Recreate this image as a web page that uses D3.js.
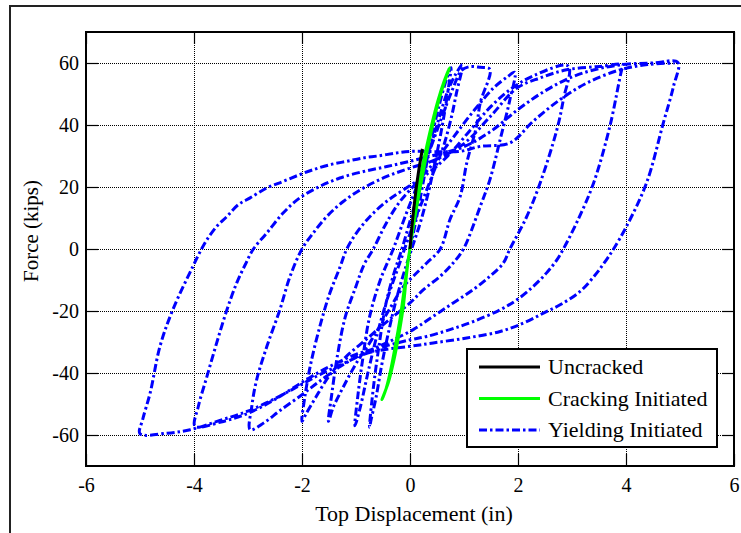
<!DOCTYPE html>
<html>
<head>
<meta charset="utf-8">
<script src="https://cdn.jsdelivr.net/npm/d3@7"></script>
<style>
  html, body { margin: 0; padding: 0; background: #fff; }
  svg { display: block; }
  text { font-family: "Liberation Serif", "Times New Roman", serif; fill: #000; }
</style>
</head>
<body>
<svg id="chart" width="741" height="533"></svg>
<script>
// Axis ticks
const xTicks = [-6, -4, -2, 0, 2, 4, 6];
const yTicks = [-60, -40, -20, 0, 20, 40, 60];

// Series names
const seriesNames = ["Uncracked", "Cracking Initiated", "Yielding Initiated"];

// Uncracked response: [top displacement (in), force (kips)]
const uncracked = [[0, 0], [0.04, 8], [0.09, 16], [0.15, 24], [0.23, 32.3]];

// Cracking initiated: one narrow loop
const cracking = [
  [0, 0], [0.07, 10], [0.154, 20], [0.27, 30], [0.4, 40], [0.52, 48], [0.63, 54], [0.73, 58.4],
  [0.66, 55], [0.55, 49], [0.42, 40], [0.3, 30], [0.18, 19], [0.05, 6], [-0.05, -6], [-0.12, -18],
  [-0.2, -27], [-0.3, -36], [-0.4, -43], [-0.52, -48.6],
  [-0.46, -46], [-0.37, -40], [-0.28, -32], [-0.18, -22], [-0.1, -12], [-0.03, -3], [0, 0]
];

// Yielding initiated: cyclic history, one array per amplitude step
const cycle075 = [
  [0, 0], [0.12, 10], [0.25, 22], [0.4, 36], [0.55, 47], [0.68, 55], [0.76, 58.5],
  [0.72, 53], [0.62, 42], [0.5, 31], [0.35, 19], [0.2, 9], [0.05, 1], [-0.1, -7], [-0.25, -16],
  [-0.4, -27], [-0.53, -38], [-0.63, -48], [-0.72, -55], [-0.75, -57.5]
];
const cycle100 = [
  [-0.68, -45], [-0.58, -32], [-0.45, -18], [-0.3, -8], [-0.15, 0], [0, 9], [0.15, 18], [0.3, 28],
  [0.5, 40], [0.7, 51], [0.85, 56.5], [0.97, 59.5],
  [0.86, 50.3], [0.77, 42.8], [0.62, 33.1], [0.43, 24.5], [0.19, 13.7], [0, 5], [-0.2, -5],
  [-0.4, -15], [-0.6, -27], [-0.78, -40], [-0.92, -51], [-1.02, -57]
];
const cycle150 = [
  [-0.97, -48], [-0.88, -36], [-0.75, -22], [-0.55, -10], [-0.31, 0], [-0.1, 10], [0.1, 19],
  [0.35, 31], [0.6, 43], [0.8, 52], [0.95, 57.5], [1.1, 58.8], [1.3, 58.6], [1.48, 58],
  [1.3, 47.1], [1.23, 39.5], [1.05, 27.7], [0.93, 17], [0.74, 9.5], [0.56, 0], [0.31, -4.5],
  [0.06, -8.8], [-0.12, -12.1], [-0.4, -20], [-0.7, -29], [-1.0, -37], [-1.25, -45], [-1.42, -51],
  [-1.51, -55.6]
];
const cycle200 = [
  [-1.45, -47], [-1.35, -35], [-1.2, -22], [-1.0, -12], [-0.85, -5], [-0.68, 0], [-0.45, 8],
  [-0.2, 15], [0.1, 21], [0.45, 28], [0.8, 36], [1.2, 45], [1.55, 52], [1.8, 55.5], [1.94, 57],
  [1.85, 48.2], [1.67, 35.3], [1.48, 22.4], [1.3, 13.7], [0.99, 0], [0.8, -4.5], [0.56, -8.8],
  [0.25, -13.1], [0, -17.4], [-0.4, -23], [-0.8, -29], [-1.2, -35], [-1.5, -41], [-1.75, -48],
  [-1.92, -53], [-2.0, -55.6]
];
const cycle300 = [
  [-1.95, -48], [-1.85, -38], [-1.7, -27], [-1.5, -15], [-1.3, -6], [-1.17, 0], [-0.99, 5.2],
  [-0.74, 10.5], [-0.43, 15.4], [-0.12, 19.1], [0.3, 24], [0.7, 30], [1.1, 38], [1.5, 46],
  [1.9, 52], [2.3, 56], [2.93, 59],
  [2.84, 48.2], [2.72, 38.5], [2.41, 21.3], [2.15, 10], [1.85, 0], [1.73, -4.5], [1.48, -8.8],
  [1.17, -13.1], [0.8, -17.4], [0.43, -21.7], [0.06, -26], [-0.4, -30], [-0.9, -34], [-1.3, -38],
  [-1.7, -43], [-2.0, -47], [-2.4, -52], [-2.7, -56], [-2.96, -58.3]
];
const cycle400 = [
  [-2.93, -50.8], [-2.84, -42.2], [-2.65, -31.4], [-2.41, -19.6], [-2.22, -8.8], [-2.0, 0],
  [-1.79, 5.2], [-1.54, 10.5], [-1.23, 15.4], [-0.86, 19.7], [-0.43, 23.4], [0, 26.1], [0.5, 29],
  [1.0, 34], [1.5, 43], [1.98, 51.9], [2.41, 55.2], [2.9, 57.8], [3.52, 58.9], [3.95, 59.4],
  [3.92, 57.8], [3.7, 39.5], [3.4, 21.3], [3.1, 9], [2.84, 0], [2.72, -3.5], [2.53, -7.7],
  [2.28, -12.1], [1.98, -16.4], [1.67, -19.6], [1.17, -23.4], [0.74, -26], [0.31, -28.2],
  [0, -29.3], [-0.5, -31.5], [-1.0, -34], [-1.5, -38], [-2.0, -43], [-2.5, -48.5], [-3.0, -53],
  [-3.5, -55.8], [-3.98, -57.2]
];
const cycle500 = [
  [-3.92, -50.8], [-3.76, -41.1], [-3.58, -30.3], [-3.39, -19.6], [-3.21, -11], [-3.05, -5],
  [-2.9, 0], [-2.65, 5.2], [-2.35, 11.6], [-2.04, 16.5], [-1.67, 20.2], [-1.3, 22.9],
  [-0.86, 25], [-0.43, 26.6], [0, 28.3], [0.5, 30.5], [1.0, 33], [1.5, 38], [2.0, 45], [2.5, 51],
  [3.0, 55.5], [3.5, 58.2], [4.0, 59.6], [4.5, 60], [4.96, 60.2],
  [4.88, 52.5], [4.69, 40.6], [4.38, 21.3], [4.01, 7.3], [3.77, 0], [3.64, -3.4], [3.46, -7.7],
  [3.15, -13.7], [2.78, -18], [2.47, -20.7], [2.1, -23.9], [1.67, -26.6], [1.05, -28.7],
  [0.43, -30.3], [0, -31.4], [-0.5, -32.5], [-0.86, -34], [-1.24, -37], [-1.67, -40.5],
  [-2.04, -44], [-2.53, -48.5], [-3.02, -52.4], [-3.52, -55.3], [-4.07, -58.3], [-4.5, -59.4],
  [-5.0, -59.6]
];
const finalPush = [
  [-4.95, -55], [-4.81, -46.3], [-4.63, -31.4], [-4.39, -19.5], [-4.02, -5.6], [-3.86, 0],
  [-3.76, 3], [-3.58, 7.3], [-3.39, 10.5], [-3.18, 14.3], [-2.96, 16.5], [-2.65, 19.7],
  [-2.35, 21.8], [-2.04, 24], [-1.79, 25.6], [-1.48, 27.2], [-1.17, 28.3], [-0.86, 29.4],
  [-0.56, 30.1], [-0.25, 31], [0, 31.5], [0.5, 31.4], [0.93, 31.5], [1.3, 33.1], [1.85, 34.2],
  [2.28, 41.2], [2.78, 48.2], [3.27, 53.5], [3.89, 57.8], [4.4, 59.5], [4.9, 60]
];
const yielding = [].concat(cycle075, cycle100, cycle150, cycle200, cycle300, cycle400, cycle500, finalPush);

// Layout
const svg = d3.select("#chart");
const plot = { left: 86, right: 734, top: 32, bottom: 466 };
const x = d3.scaleLinear().domain([-6, 6]).range([plot.left, plot.right]);
const y = d3.scaleLinear().domain([-70, 70]).range([plot.bottom, plot.top]);
const fmt = d => String(d);

// Figure frame
svg.append("rect")
  .attr("x", 10).attr("y", 6).attr("width", 900).attr("height", 700)
  .attr("fill", "#fff").attr("stroke", "#222").attr("stroke-width", 2);

// Dotted grid
const gridStyle = g => {
  g.select(".domain").remove();
  g.selectAll(".tick line").attr("stroke", "#000").attr("stroke-width", 1).attr("stroke-dasharray", "1,1");
  g.selectAll("text").remove();
};
svg.append("g")
  .attr("transform", `translate(0,${plot.bottom})`)
  .call(d3.axisBottom(x).tickValues(xTicks.slice(1, -1)).tickSize(-(plot.bottom - plot.top)).tickFormat(""))
  .call(gridStyle);
svg.append("g")
  .attr("transform", `translate(${plot.left},0)`)
  .call(d3.axisLeft(y).tickValues(yTicks).tickSize(-(plot.right - plot.left)).tickFormat(""))
  .call(gridStyle);

// Data lines
const line = d3.line().x(d => x(d[0])).y(d => y(d[1])).curve(d3.curveCatmullRom.alpha(0.5));
const dashDot = "8,3,2.5,3";

svg.append("path").datum(yielding)
  .attr("d", line).attr("fill", "none").attr("stroke", "#0000ff")
  .attr("stroke-width", 3).attr("stroke-dasharray", dashDot).attr("stroke-linejoin", "round");
svg.append("path").datum(cracking)
  .attr("d", line).attr("fill", "none").attr("stroke", "#00ff00").attr("stroke-width", 3);
svg.append("path").datum(uncracked)
  .attr("d", line).attr("fill", "none").attr("stroke", "#000").attr("stroke-width", 3);

// Axes: inward ticks on all four sides
const tickLen = 12;
const axisStyle = g => {
  g.select(".domain").remove();
  g.selectAll(".tick line").attr("stroke", "#000").attr("stroke-width", 1.2);
  g.selectAll("text").attr("font-size", 20).attr("font-family", "'Liberation Serif', 'Times New Roman', serif").attr("fill", "#000");
};
svg.append("g")
  .attr("transform", `translate(0,${plot.bottom})`)
  .call(d3.axisBottom(x).tickValues(xTicks).tickSize(-tickLen).tickPadding(12).tickFormat(fmt))
  .call(axisStyle);
svg.append("g")
  .attr("transform", `translate(0,${plot.top})`)
  .call(d3.axisTop(x).tickValues(xTicks).tickSize(-tickLen).tickFormat(""))
  .call(axisStyle);
svg.append("g")
  .attr("transform", `translate(${plot.left},0)`)
  .call(d3.axisLeft(y).tickValues(yTicks).tickSize(-tickLen).tickPadding(7).tickFormat(fmt))
  .call(axisStyle);
svg.append("g")
  .attr("transform", `translate(${plot.right},0)`)
  .call(d3.axisRight(y).tickValues(yTicks).tickSize(-tickLen).tickFormat(""))
  .call(axisStyle);

// Plot box
svg.append("rect")
  .attr("x", plot.left).attr("y", plot.top)
  .attr("width", plot.right - plot.left).attr("height", plot.bottom - plot.top)
  .attr("fill", "none").attr("stroke", "#000").attr("stroke-width", 2);

// Axis titles
svg.append("text")
  .attr("x", (plot.left + plot.right) / 2 + 4).attr("y", 521)
  .attr("text-anchor", "middle").attr("font-size", 22)
  .text("Top Displacement (in)");
svg.append("text")
  .attr("transform", `translate(38,231) rotate(-90)`)
  .attr("text-anchor", "middle").attr("font-size", 21)
  .text("Force (kips)");

// Legend
const legend = svg.append("g").attr("transform", "translate(467,349)");
legend.append("rect")
  .attr("width", 250).attr("height", 98)
  .attr("fill", "#fff").attr("stroke", "#000").attr("stroke-width", 2);
const legendStyles = [
  { color: "#000", dash: null },
  { color: "#00ff00", dash: null },
  { color: "#0000ff", dash: dashDot }
];
seriesNames.forEach((name, i) => {
  const yy = 18 + i * 31.5;
  legend.append("line")
    .attr("x1", 12).attr("x2", 73).attr("y1", yy).attr("y2", yy)
    .attr("stroke", legendStyles[i].color).attr("stroke-width", 3)
    .attr("stroke-dasharray", legendStyles[i].dash);
  legend.append("text")
    .attr("x", 81).attr("y", yy + 7)
    .attr("font-size", 22)
    .text(name);
});
</script>
</body>
</html>
